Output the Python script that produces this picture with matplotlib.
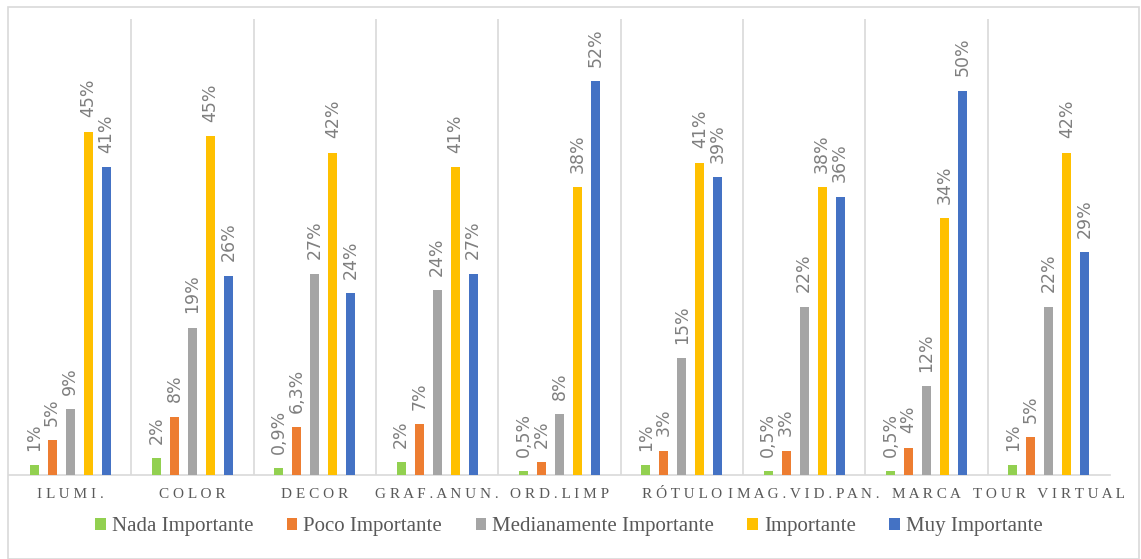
import matplotlib
matplotlib.use( "Agg" )
import matplotlib.pyplot as plt
import numpy as np
from matplotlib.patches import Rectangle

# categorías y series
categories = ["ILUMI.", "COLOR", "DECOR", "GRAF.ANUN.", "ORD.LIMP",
              "RÓTULO", "IMAG.VID.PAN.", "MARCA", "TOUR VIRTUAL"]
series_names = ["Nada Importante", "Poco Importante", "Medianamente Importante",
                "Importante", "Muy Importante"]

nada = [1.3, 2.2, 0.9, 1.7, 0.5, 1.3, 0.5, 0.5, 1.3]
poco = [4.6, 7.7, 6.3, 6.7, 1.7, 3.2, 3.2, 3.6, 5.0]
medio = [8.7, 19.4, 26.6, 24.4, 8.0, 15.4, 22.2, 11.7, 22.2]
importante = [45.3, 44.7, 42.5, 40.6, 38.0, 41.2, 38.0, 33.9, 42.5]
muy = [40.6, 26.3, 24.0, 26.6, 52.0, 39.3, 36.7, 50.7, 29.4]

lbl_nada = ["1%", "2%", "0,9%", "2%", "0,5%", "1%", "0,5%", "0,5%", "1%"]
lbl_poco = ["5%", "8%", "6,3%", "7%", "2%", "3%", "3%", "4%", "5%"]
lbl_medio = ["9%", "19%", "27%", "24%", "8%", "15%", "22%", "12%", "22%"]
lbl_importante = ["45%", "45%", "42%", "41%", "38%", "41%", "38%", "34%", "42%"]
lbl_muy = ["41%", "26%", "24%", "27%", "52%", "39%", "36%", "50%", "29%"]

colors = ["#92D050", "#ED7D31", "#A5A5A5", "#FFC000", "#4472C4"]

W, H = 1141, 559
fig = plt.figure( figsize=( W / 100, H / 100 ), dpi=100 )
ax = fig.add_axes([9 / W, 1 - 475 / H, ( 1110 - 9 ) / W, ( 475 - 19 ) / H])

# borde exterior del gráfico
fig.patches.append( Rectangle(( 8 / W, 0 ), ( 1139 - 8 ) / W, 1 - 7 / H,
                              transform=fig.transFigure, fill=False,
                              edgecolor="#D9D9D9", linewidth=1.2 ) )

x = np.arange( len( categories ) )
step = 0.147
width = 0.074
all_vals = [nada, poco, medio, importante, muy]
all_lbls = [lbl_nada, lbl_poco, lbl_medio, lbl_importante, lbl_muy]

for i, ( vals, lbls ) in enumerate( zip( all_vals, all_lbls ) ):
    pos = x + ( i - 2 ) * step
    ax.bar( pos, vals, width=width, color=colors[i], label=series_names[i], zorder=3 )
    for px, v, t in zip( pos, vals, lbls ):
        ax.annotate( t, ( px, v ), xytext=( 0, 10.5 ), textcoords="offset points",
                     rotation=90, ha="center", va="bottom",
                     fontsize=12.5, color="#7F7F7F", family="DejaVu Sans" )

# separadores entre categorías
for b in np.arange( 0.5, len( categories ) - 1, 1.0 ):
    ax.axvline( b, color="#D9D9D9", linewidth=1.2, zorder=1 )

ax.set_xlim( -0.5, len( categories ) - 0.5 )
ax.set_ylim( 0, 60.2 )
ax.set_yticks( [] )
for s in ["top", "right", "left"]:
    ax.spines[s].set_visible( False )
ax.spines["bottom"].set_color( "#D9D9D9" )
ax.spines["bottom"].set_linewidth( 1.2 )

spaced = [" ".join( c ) for c in categories]
ax.set_xticks( x )
ax.set_xticklabels( spaced, family="Liberation Serif", fontsize=11, color="#595959" )
ax.tick_params( axis="x", length=0, pad=9 )

fig.legend( loc="center", bbox_to_anchor=( 569 / W, 1 - 527 / H ), ncol=5,
            frameon=False, prop={"family": "Liberation Serif", "size": 15},
            labelcolor="#595959", handlelength=0.5, handleheight=0.5,
            handletextpad=0.3, columnspacing=1.6 )

fig.savefig( "out.png", dpi=100 )
